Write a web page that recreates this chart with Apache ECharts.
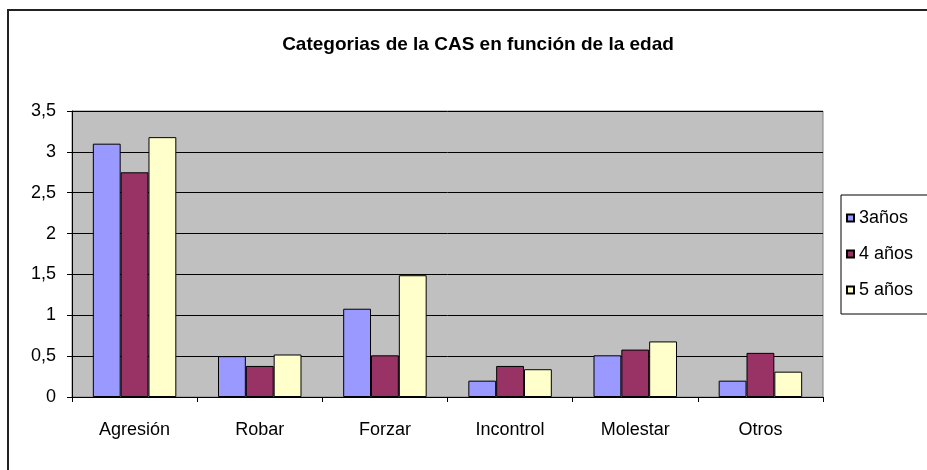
<!DOCTYPE html>
<html>
<head>
<meta charset="utf-8">
<script src="https://cdn.jsdelivr.net/npm/echarts@6/dist/echarts.min.js"></script>
<style>
html,body{margin:0;padding:0;background:#fff;}
#chart{width:927px;height:470px;}
</style>
</head>
<body>
<div id="chart"></div>
<script>
var titleText = 'Categorias de la CAS en función de la edad';
var categories = ['Agresión', 'Robar', 'Forzar', 'Incontrol', 'Molestar', 'Otros'];
var seriesNames = ['3años', '4 años', '5 años'];
var values3 = [3.1, 0.5, 1.08, 0.2, 0.51, 0.2];
var values4 = [2.75, 0.38, 0.51, 0.38, 0.58, 0.54];
var values5 = [3.18, 0.52, 1.49, 0.34, 0.68, 0.31];
var colors = ['#9999FF', '#993366', '#FFFFCC'];

var font = 'Arial, "Liberation Sans", sans-serif';
var chart = echarts.init(document.getElementById('chart'));
var allValues = [values3, values4, values5];
var series = seriesNames.map(function (n, i) {
  return {
    name: n,
    type: 'bar',
    data: allValues[i],
    barGap: '0%',
    barCategoryGap: '33.3%',
    itemStyle: { color: colors[i], borderColor: '#000', borderWidth: 1 }
  };
});
chart.setOption({
  animation: false,
  backgroundColor: '#fff',
  title: {
    text: titleText,
    left: 473, top: 30, textAlign: 'center',
    textStyle: { fontFamily: font, fontWeight: 'bold', fontSize: 19, color: '#000' }
  },
  graphic: [{
    type: 'rect',
    shape: { x: 8, y: 10, width: 940, height: 480 },
    style: { fill: 'none', stroke: '#222', lineWidth: 2 },
    z: 100
  }],
  legend: {
    orient: 'vertical',
    left: 841, top: 195,
    padding: [14, 30, 15, 5],
    itemGap: 18,
    itemWidth: 7, itemHeight: 7,
    icon: 'rect',
    backgroundColor: '#fff',
    borderColor: '#000', borderWidth: 1,
    textStyle: { fontFamily: font, fontSize: 18, color: '#000' },
    data: seriesNames
  },
  grid: {
    left: 72, top: 111, right: 104, bottom: 73,
    show: true, backgroundColor: '#C0C0C0', borderColor: '#808080', borderWidth: 1
  },
  xAxis: {
    type: 'category',
    data: categories,
    axisLine: { lineStyle: { color: '#000', width: 1 } },
    axisTick: { show: true, length: 5, lineStyle: { color: '#000' } },
    axisLabel: { margin: 24, fontFamily: font, fontSize: 18, color: '#000' }
  },
  yAxis: {
    type: 'value',
    min: 0, max: 3.5, interval: 0.5,
    axisLine: { show: true, lineStyle: { color: '#000', width: 1 } },
    axisTick: { show: true, length: 5, lineStyle: { color: '#000' } },
    splitLine: { lineStyle: { color: '#000', width: 1 } },
    axisLabel: {
      margin: 16, fontFamily: font, fontSize: 18, color: '#000',
      formatter: function (v) { return String(v).replace('.', ','); }
    }
  },
  series: series
});
</script>
</body>
</html>
